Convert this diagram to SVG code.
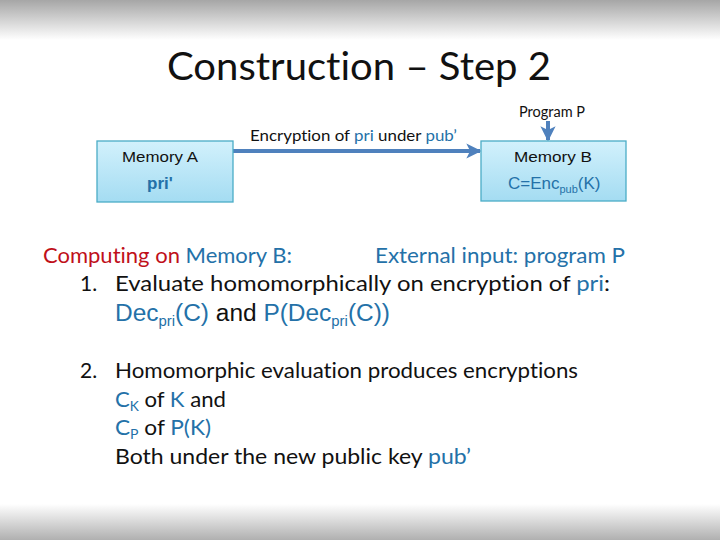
<svg xmlns="http://www.w3.org/2000/svg" width="720" height="540" viewBox="0 0 720 540">
<defs>
<linearGradient id="topg" x1="0" y1="0" x2="0" y2="1"><stop offset="0" stop-color="#a6a6a6"/><stop offset="1" stop-color="#ffffff"/></linearGradient>
<linearGradient id="botg" x1="0" y1="0" x2="0" y2="1"><stop offset="0" stop-color="#ffffff"/><stop offset="1" stop-color="#b0b0b0"/></linearGradient>
<linearGradient id="boxg" x1="0" y1="0" x2="0" y2="1"><stop offset="0" stop-color="#d2f1fc"/><stop offset="1" stop-color="#a4dcf2"/></linearGradient>
<marker id="ah" viewBox="0 0 10 10" refX="9" refY="5" markerWidth="3.8" markerHeight="3.8" orient="auto" markerUnits="strokeWidth"><path d="M0,0 L10,5 L0,10 L2.5,5 Z" fill="#4f81bd"/></marker>
<style>
text{font-variant-ligatures:none}
.box{fill:url(#boxg);stroke:#4bacc6;stroke-width:1.3}
.lbl{font-family:"Liberation Sans",Arial,sans-serif;font-size:14px;fill:#111}
.cal{font-family:Lato,"Open Sans",sans-serif;fill:#111}
.blue{fill:#2471a8}
.red{fill:#c0101a}
.ar{font-family:"Liberation Sans",Arial,sans-serif}
.conn{stroke:#4f81bd;stroke-width:4;fill:none}
</style>
</defs>
<rect x="0" y="0" width="720" height="540" fill="#ffffff"/>
<rect x="0" y="0" width="720" height="40" fill="url(#topg)"/>
<rect x="0" y="504" width="720" height="36" fill="url(#botg)"/>

<text class="cal" x="359" y="80" font-size="38" text-anchor="middle" textLength="384" lengthAdjust="spacingAndGlyphs">Construction – Step 2</text>

<g id="connectors">
<line class="conn" x1="233" y1="151" x2="480" y2="151" marker-end="url(#ah)"/>
<line class="conn" x1="548" y1="121" x2="548" y2="140" marker-end="url(#ah)"/>
<text class="cal" x="250" y="141" font-size="14.5" textLength="207" lengthAdjust="spacingAndGlyphs">Encryption of <tspan class="blue">pri</tspan> under <tspan class="blue">pub’</tspan></text>
</g>

<g id="program-p">
<text class="cal" x="552" y="117" font-size="14.5" text-anchor="middle">Program P</text>
</g>

<g id="memory-a">
<rect class="box" x="97" y="141" width="136" height="61"/>
<text class="lbl" x="160" y="162" text-anchor="middle" textLength="76" lengthAdjust="spacingAndGlyphs">Memory A</text>
<text class="ar blue" x="160" y="189" font-size="17" font-weight="bold" text-anchor="middle">pri'</text>
</g>

<g id="memory-b">
<rect class="box" x="481" y="141" width="145" height="60"/>
<text class="lbl" x="553" y="162" text-anchor="middle" textLength="78" lengthAdjust="spacingAndGlyphs">Memory B</text>
<text class="ar blue" x="508" y="189" font-size="17">C=Enc<tspan font-size="11" dy="4">pub</tspan><tspan dy="-4">(K)</tspan></text>
</g>

<g id="body">
<text class="cal" x="43" y="263" font-size="21" textLength="249" lengthAdjust="spacingAndGlyphs"><tspan class="red">Computing on</tspan> <tspan class="blue">Memory B:</tspan></text>
<text class="cal blue" x="375" y="263" font-size="21" textLength="250" lengthAdjust="spacingAndGlyphs">External input: program P</text>
<text class="cal" x="80" y="291" font-size="21">1.</text>
<text class="cal" x="115" y="291" font-size="21" textLength="495" lengthAdjust="spacingAndGlyphs">Evaluate homomorphically on encryption of <tspan class="blue">pri</tspan>:</text>
<text class="ar" x="115" y="321" font-size="23" fill="#111" textLength="275" lengthAdjust="spacingAndGlyphs"><tspan class="blue">Dec</tspan><tspan class="blue" font-size="14" dy="5">pri</tspan><tspan class="blue" dy="-5">(C)</tspan> and <tspan class="blue">P(Dec</tspan><tspan class="blue" font-size="14" dy="5">pri</tspan><tspan class="blue" dy="-5">(C))</tspan></text>
<text class="cal" x="80" y="378" font-size="21">2.</text>
<text class="cal" x="115" y="378" font-size="21" textLength="463" lengthAdjust="spacingAndGlyphs">Homomorphic evaluation produces encryptions</text>
<text class="cal" x="115" y="407" font-size="21" textLength="111" lengthAdjust="spacingAndGlyphs"><tspan class="blue">C</tspan><tspan class="blue" font-size="13" dy="4">K</tspan><tspan dy="-4"> of </tspan><tspan class="blue">K</tspan> and</text>
<text class="cal" x="115" y="435" font-size="21" textLength="96" lengthAdjust="spacingAndGlyphs"><tspan class="blue">C</tspan><tspan class="blue" font-size="13" dy="4">P</tspan><tspan dy="-4"> of </tspan><tspan class="blue">P(K)</tspan></text>
<text class="cal" x="115" y="464" font-size="21" textLength="356" lengthAdjust="spacingAndGlyphs">Both under the new public key <tspan class="blue">pub’</tspan></text>
</g>
</svg>
